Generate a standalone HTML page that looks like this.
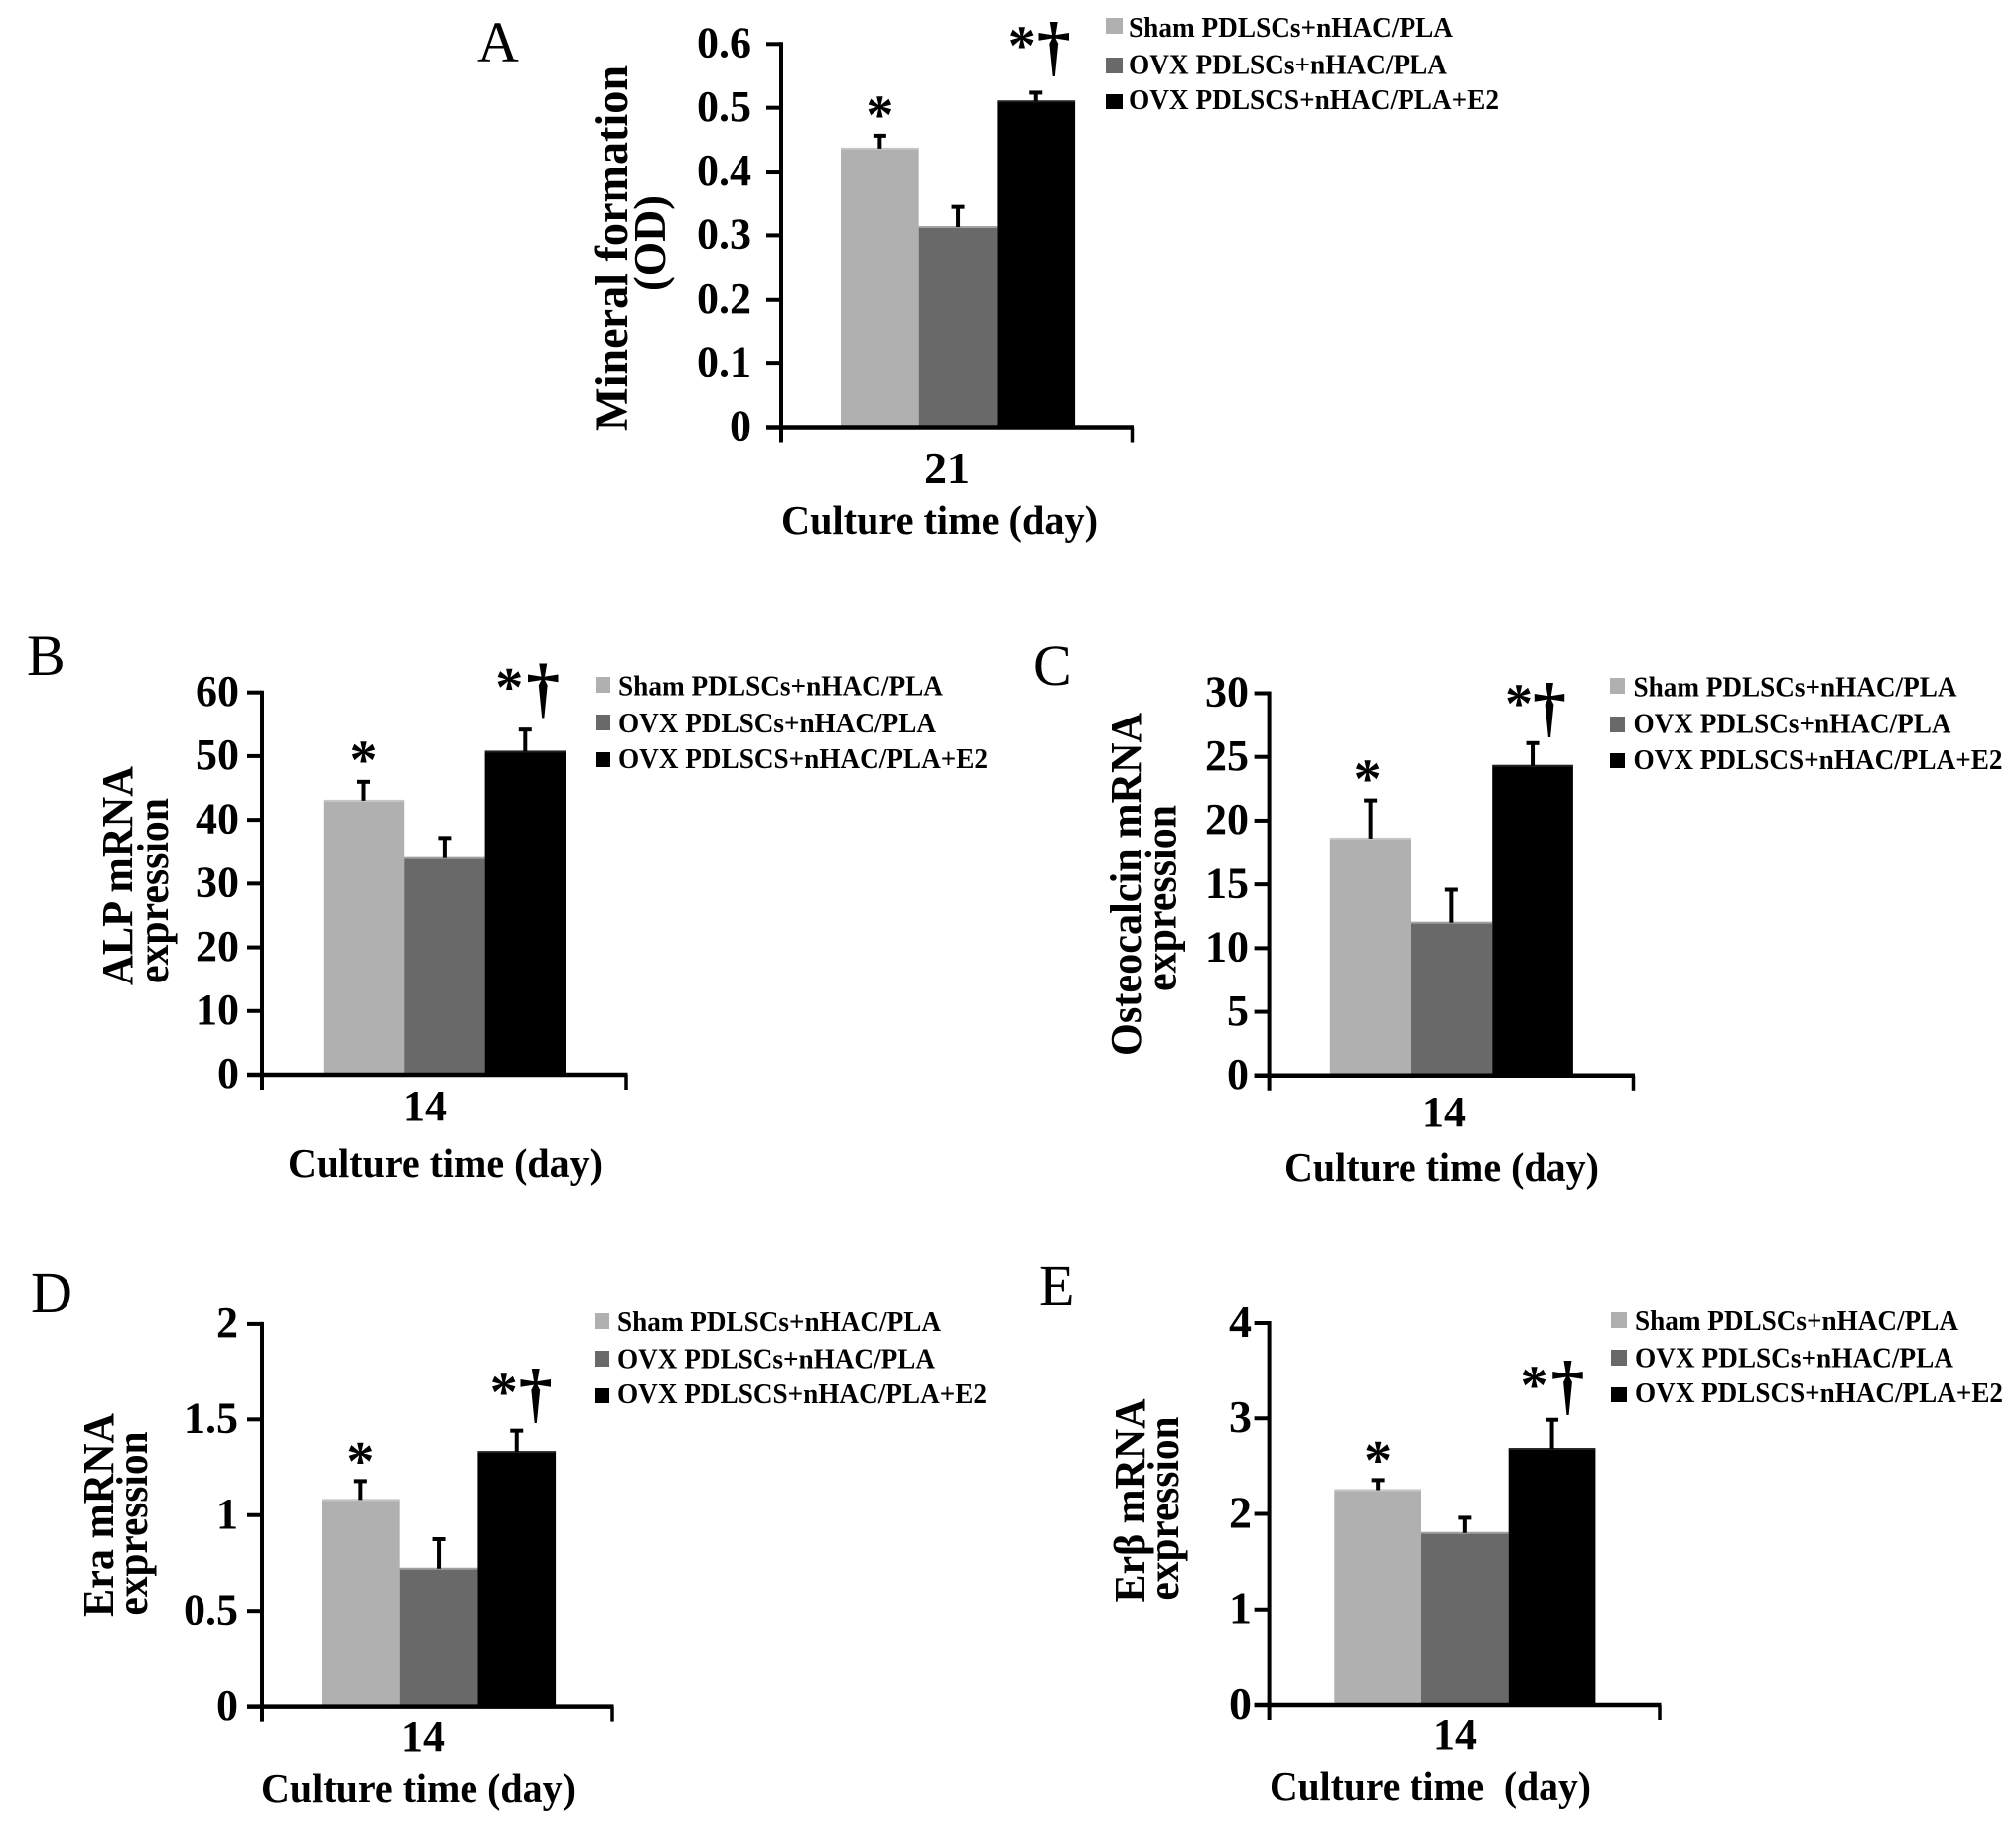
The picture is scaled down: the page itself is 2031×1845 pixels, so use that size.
<!DOCTYPE html>
<html lang="en">
<head>
<meta charset="utf-8">
<title>Mineral formation and mRNA expression bar charts</title>
<style>
html,body{margin:0;padding:0;background:#fff;width:2031px;height:1845px;overflow:hidden}
svg{display:block}
text{font-family:"Liberation Serif","DejaVu Serif",serif;fill:#000}
.letter{font-size:58px;font-weight:400}
.title{font-weight:700;font-size:44px}
.xlab{font-weight:700;font-size:41px}
.leg{font-weight:700;font-size:28px}
</style>
</head>
<body>
<svg id="figure" xmlns="http://www.w3.org/2000/svg" width="2031" height="1845" viewBox="0 0 2031 1845">
<rect width="2031" height="1845" fill="#fff"/>

<g>
<text class="letter" x="481" y="62">A</text>
<text class="title" style="font-size:48px" transform="translate(632,434) rotate(-90)" textLength="368" lengthAdjust="spacingAndGlyphs">Mineral formation</text>
<text class="title" style="font-size:46px" transform="translate(670,293) rotate(-90)" textLength="96" lengthAdjust="spacingAndGlyphs">(OD)</text>
<text class="xlab" x="787" y="538" textLength="319" lengthAdjust="spacingAndGlyphs">Culture time (day)</text>
<rect x="1114" y="18" width="17" height="16" fill="#b0b0b0"/>
<text class="leg" x="1137" y="37" textLength="327" lengthAdjust="spacingAndGlyphs">Sham PDLSCs+nHAC/PLA</text>
<rect x="1114" y="58" width="17" height="16" fill="#696969"/>
<text class="leg" x="1137" y="74.5" textLength="321" lengthAdjust="spacingAndGlyphs">OVX PDLSCs+nHAC/PLA</text>
<rect x="1114" y="95" width="17" height="15" fill="#000"/>
<text class="leg" x="1137" y="110" textLength="373" lengthAdjust="spacingAndGlyphs">OVX PDLSCS+nHAC/PLA+E2</text>
</g>

<g>
<text class="letter" x="27" y="680">B</text>
<text class="title" transform="translate(133,993) rotate(-90)" textLength="221" lengthAdjust="spacingAndGlyphs">ALP mRNA</text>
<text class="title" transform="translate(169,991) rotate(-90)" textLength="187" lengthAdjust="spacingAndGlyphs">expression</text>
<text class="xlab" x="290" y="1186" textLength="317" lengthAdjust="spacingAndGlyphs">Culture time (day)</text>
<rect x="600" y="682" width="15" height="16" fill="#b0b0b0"/>
<text class="leg" x="623" y="700.5" textLength="327" lengthAdjust="spacingAndGlyphs">Sham PDLSCs+nHAC/PLA</text>
<rect x="600" y="720" width="15" height="16" fill="#696969"/>
<text class="leg" x="623" y="738" textLength="320" lengthAdjust="spacingAndGlyphs">OVX PDLSCs+nHAC/PLA</text>
<rect x="600" y="758" width="15" height="15" fill="#000"/>
<text class="leg" x="623" y="774" textLength="372" lengthAdjust="spacingAndGlyphs">OVX PDLSCS+nHAC/PLA+E2</text>
</g>

<g>
<text class="letter" x="1041" y="690">C</text>
<text class="title" transform="translate(1149,1064) rotate(-90)" textLength="346" lengthAdjust="spacingAndGlyphs">Osteocalcin mRNA</text>
<text class="title" transform="translate(1184.5,999) rotate(-90)" textLength="188" lengthAdjust="spacingAndGlyphs">expression</text>
<text class="xlab" x="1294" y="1190" textLength="317" lengthAdjust="spacingAndGlyphs">Culture time (day)</text>
<rect x="1622" y="683" width="15" height="16" fill="#b0b0b0"/>
<text class="leg" x="1645.5" y="701.5" textLength="326" lengthAdjust="spacingAndGlyphs">Sham PDLSCs+nHAC/PLA</text>
<rect x="1622" y="722" width="15" height="16" fill="#696969"/>
<text class="leg" x="1645.5" y="738.5" textLength="320" lengthAdjust="spacingAndGlyphs">OVX PDLSCs+nHAC/PLA</text>
<rect x="1622" y="759" width="15" height="15" fill="#000"/>
<text class="leg" x="1645.5" y="775" textLength="372" lengthAdjust="spacingAndGlyphs">OVX PDLSCS+nHAC/PLA+E2</text>
</g>

<g>
<text class="letter" x="31" y="1322">D</text>
<text class="title" transform="translate(114,1629) rotate(-90)" textLength="205" lengthAdjust="spacingAndGlyphs">Era mRNA</text>
<text class="title" transform="translate(148,1627.5) rotate(-90)" textLength="185" lengthAdjust="spacingAndGlyphs">expression</text>
<text class="xlab" x="263" y="1816" textLength="317" lengthAdjust="spacingAndGlyphs">Culture time (day)</text>
<rect x="599" y="1323" width="15" height="16" fill="#b0b0b0"/>
<text class="leg" x="622" y="1341" textLength="326" lengthAdjust="spacingAndGlyphs">Sham PDLSCs+nHAC/PLA</text>
<rect x="599" y="1361" width="15" height="16" fill="#696969"/>
<text class="leg" x="622" y="1378.5" textLength="320" lengthAdjust="spacingAndGlyphs">OVX PDLSCs+nHAC/PLA</text>
<rect x="599" y="1399" width="15" height="15" fill="#000"/>
<text class="leg" x="622" y="1414" textLength="372" lengthAdjust="spacingAndGlyphs">OVX PDLSCS+nHAC/PLA+E2</text>
</g>

<g>
<text class="letter" x="1047" y="1315">E</text>
<text class="title" transform="translate(1153,1614.5) rotate(-90)" textLength="205" lengthAdjust="spacingAndGlyphs">Erβ mRNA</text>
<text class="title" transform="translate(1187,1612.5) rotate(-90)" textLength="185" lengthAdjust="spacingAndGlyphs">expression</text>
<text class="xlab" x="1279" y="1814" textLength="324" lengthAdjust="spacingAndGlyphs" style="white-space:pre">Culture time  (day)</text>
<rect x="1623" y="1322" width="16" height="16" fill="#b0b0b0"/>
<text class="leg" x="1647" y="1340" textLength="326" lengthAdjust="spacingAndGlyphs">Sham PDLSCs+nHAC/PLA</text>
<rect x="1623" y="1360" width="16" height="16" fill="#696969"/>
<text class="leg" x="1647" y="1377.5" textLength="321" lengthAdjust="spacingAndGlyphs">OVX PDLSCs+nHAC/PLA</text>
<rect x="1623" y="1398" width="16" height="15" fill="#000"/>
<text class="leg" x="1647" y="1413" textLength="371" lengthAdjust="spacingAndGlyphs">OVX PDLSCS+nHAC/PLA+E2</text>
</g>
</svg>

<script>
// Chart data
const seriesNames = ['Sham PDLSCs+nHAC/PLA', 'OVX PDLSCs+nHAC/PLA', 'OVX PDLSCS+nHAC/PLA+E2'];

const categoryA = ['21'];
const valuesA = [0.436, 0.313, 0.51];
const errorsA = [0.0225, 0.034, 0.016];
const tickValuesA = [0, 0.1, 0.2, 0.3, 0.4, 0.5, 0.6];
const tickLabelsA = ['0', '0.1', '0.2', '0.3', '0.4', '0.5', '0.6'];

const categoryB = ['14'];
const valuesB = [43, 34, 50.7];
const errorsB = [3.2, 3.4, 3.7];
const tickValuesB = [0, 10, 20, 30, 40, 50, 60];
const tickLabelsB = ['0', '10', '20', '30', '40', '50', '60'];

const categoryC = ['14'];
const valuesC = [18.6, 12, 24.3];
const errorsC = [3.1, 2.7, 1.9];
const tickValuesC = [0, 5, 10, 15, 20, 25, 30];
const tickLabelsC = ['0', '5', '10', '15', '20', '25', '30'];

const categoryD = ['14'];
const valuesD = [1.08, 0.72, 1.33];
const errorsD = [0.106, 0.162, 0.119];
const tickValuesD = [0, 0.5, 1, 1.5, 2];
const tickLabelsD = ['0', '0.5', '1', '1.5', '2'];

const categoryE = ['14'];
const valuesE = [2.25, 1.8, 2.68];
const errorsE = [0.12, 0.175, 0.32];
const tickValuesE = [0, 1, 2, 3, 4];
const tickLabelsE = ['0', '1', '2', '3', '4'];

const barColors = ['#b0b0b0', '#696969', '#000000'];
const barRims = ['#c6c6c6', '#a0a0a0', '#222222'];

// Panel geometry (separate from the data)
const layoutA = {id:'a', left:787, right:1140.5, y0:430.5, yTop:44.3, domainMax:0.6, bandLeft:847, bandStep:78.7, tickFont:44, labelRight:757, catX:954, catY:487, catFont:46, star1:[0,-27], star3:[-14,-54], dagger:[18,-70]};
const layoutB = {id:'b', left:264, right:631, y0:1083, yTop:697.7, domainMax:60, bandLeft:325.8, bandStep:81.4, tickFont:44, labelRight:241, catX:428, catY:1129, catFont:44, star1:[0,-28], star3:[-16,-49], dagger:[18,-65]};
const layoutC = {id:'c', left:1278.6, right:1645.5, y0:1083.8, yTop:698.5, domainMax:30, bandLeft:1339.8, bandStep:81.7, tickFont:44, labelRight:1258, catX:1455, catY:1135, catFont:44, star1:[-3,-28], star3:[-14,-46], dagger:[17,-59]};
const layoutD = {id:'d', left:264, right:617, y0:1719.6, yTop:1333.9, domainMax:2, bandLeft:324, bandStep:78.7, tickFont:44, labelRight:240, catX:426, catY:1764, catFont:44, star1:[0,-26], star3:[-13,-45], dagger:[19,-61]};
const layoutE = {id:'e', left:1278.6, right:1672, y0:1718, yTop:1333, domainMax:4, bandLeft:1344.3, bandStep:87.7, tickFont:46, labelRight:1261, catX:1466, catY:1762, catFont:44, star1:[0,-26], star3:[-18,-41], dagger:[16,-58]};

const svg = document.getElementById('figure');
const NS = 'http://www.w3.org/2000/svg';

function make(tag, attrs, parent) {
  const node = document.createElementNS(NS, tag);
  for (const key in attrs) node.setAttribute(key, attrs[key]);
  parent.appendChild(node);
  return node;
}

function drawPanel(layout, category, values, errors, tickValues, tickLabels) {
  const id = layout.id;
  const yScale = v => layout.y0 - (v / layout.domainMax) * (layout.y0 - layout.yTop);
  const xBand = i => layout.bandLeft + i * layout.bandStep;
  const group = make('g', {}, svg);
  
  

  values.forEach((v, i) => {
    const bar = make('rect', {x: xBand(i), y: yScale(v), width: layout.bandStep, height: layout.y0 - yScale(v), fill: barColors[i]}, group);
    
    
    const rim = make('rect', {x: xBand(i), y: yScale(v) - 1, width: layout.bandStep, height: 2, fill: barRims[i]}, group);
    
    
  });

  values.forEach((v, i) => {
    const cx = xBand(i) + layout.bandStep / 2;
    const top = yScale(v + errors[i]);
    const stem = make('line', {x1: cx, x2: cx, y1: yScale(v), y2: top, stroke: '#000', 'stroke-width': 4}, group);
    
    
    const cap = make('line', {x1: cx - 6.5, x2: cx + 6.5, y1: top + 1.5, y2: top + 1.5, stroke: '#000', 'stroke-width': 4}, group);
    
    
  });

  const yAxis = make('line', {x1: layout.left, x2: layout.left, y1: layout.yTop - 2, y2: layout.y0 + 15, stroke: '#000', 'stroke-width': 4}, group);
  
  
  const xAxis = make('line', {x1: layout.left - 15, x2: layout.right + 1.5, y1: layout.y0, y2: layout.y0, stroke: '#000', 'stroke-width': 4.5}, group);
  
  
  const endTick = make('line', {x1: layout.right, x2: layout.right, y1: layout.y0, y2: layout.y0 + 15, stroke: '#000', 'stroke-width': 3.5}, group);
  
  

  tickValues.forEach((v, i) => {
    const tick = make('line', {x1: layout.left - 15, x2: layout.left, y1: yScale(v), y2: yScale(v), stroke: '#000', 'stroke-width': 4}, group);
    
    
    const label = make('text', {x: layout.labelRight, y: yScale(v) + layout.tickFont * 0.30, 'text-anchor': 'end', 'font-weight': 700, 'font-size': layout.tickFont}, group);
    label.textContent = tickLabels[i];
    
    
  });

  const cat = make('text', {x: layout.catX, y: layout.catY, 'text-anchor': 'middle', 'font-weight': 700, 'font-size': layout.catFont}, group);
  cat.textContent = category[0];
  
  

  const starSize = 56, daggerSize = 68;
  const cap1X = xBand(0) + layout.bandStep / 2, cap1Y = yScale(values[0] + errors[0]);
  const cap3X = xBand(2) + layout.bandStep / 2, cap3Y = yScale(values[2] + errors[2]);
  const star1 = make('text', {x: cap1X + layout.star1[0], y: cap1Y + layout.star1[1] + starSize * 0.47, 'text-anchor': 'middle', 'font-weight': 700, 'font-size': starSize}, group);
  star1.textContent = '*';
  
  
  const star3 = make('text', {x: cap3X + layout.star3[0], y: cap3Y + layout.star3[1] + starSize * 0.47, 'text-anchor': 'middle', 'font-weight': 700, 'font-size': starSize}, group);
  star3.textContent = '*';
  
  
  const dagger = make('text', {x: cap3X + layout.dagger[0], y: cap3Y + layout.dagger[1] + daggerSize * 0.69, 'text-anchor': 'middle', 'font-weight': 700, 'font-size': daggerSize}, group);
  dagger.textContent = '†';
  
  
}

drawPanel(layoutA, categoryA, valuesA, errorsA, tickValuesA, tickLabelsA);
drawPanel(layoutB, categoryB, valuesB, errorsB, tickValuesB, tickLabelsB);
drawPanel(layoutC, categoryC, valuesC, errorsC, tickValuesC, tickLabelsC);
drawPanel(layoutD, categoryD, valuesD, errorsD, tickValuesD, tickLabelsD);
drawPanel(layoutE, categoryE, valuesE, errorsE, tickValuesE, tickLabelsE);
</script>
</body>
</html>
